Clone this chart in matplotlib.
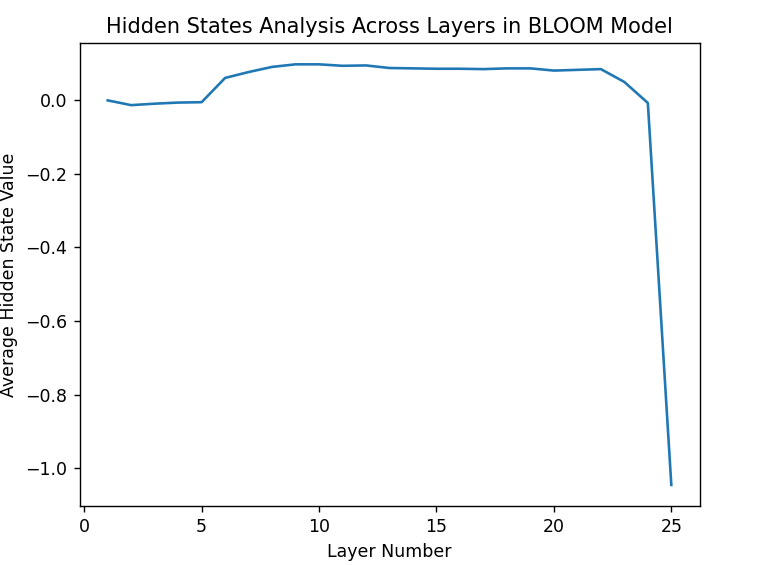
import matplotlib
matplotlib.use('Agg')
import matplotlib.pyplot as plt

layers = list(range(1, 26))
avg_hidden = [0.0, -0.013, -0.009, -0.006, -0.005, 0.061, 0.077, 0.091, 0.098, 0.098,
              0.094, 0.095, 0.088, 0.087, 0.086, 0.086, 0.085, 0.087, 0.087, 0.081,
              0.083, 0.085, 0.050, -0.007, -1.046]

dpi = 125
fig = plt.figure(figsize=(764 / dpi, 565 / dpi), dpi=dpi)
ax = fig.add_axes([79.5 / 764, 1 - 506 / 565, (699.5 - 79.5) / 764, (506 - 43.3) / 565])
ax.plot(layers, avg_hidden)
ax.set_title('Hidden States Analysis Across Layers in BLOOM Model')
ax.set_xlabel('Layer Number')
ax.set_ylabel('Average Hidden State Value')
fig.savefig('out.png', dpi=dpi)
